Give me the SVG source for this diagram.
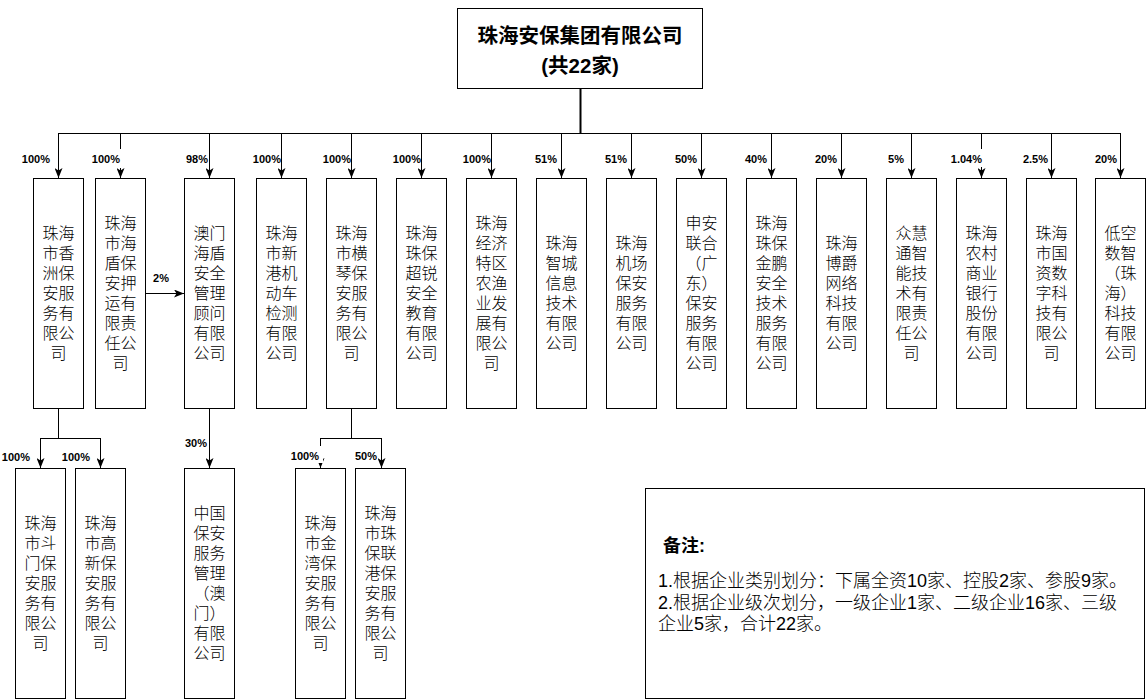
<svg xmlns="http://www.w3.org/2000/svg" width="1146" height="699" viewBox="0 0 1146 699">
<defs>
<style>
.box{fill:#fff;stroke:#000;stroke-width:1}
.t{font-family:"Liberation Sans","Noto Sans CJK SC",sans-serif;font-size:16px;font-weight:300;fill:#000;text-anchor:middle}
.title{font-family:"Liberation Sans","Noto Sans CJK SC",sans-serif;font-size:20.5px;font-weight:bold;fill:#000;text-anchor:middle}
.lbl{font-family:"Liberation Sans","Noto Sans CJK SC",sans-serif;font-size:11px;font-weight:bold;fill:#000;text-anchor:end}
.note{font-family:"Liberation Sans","Noto Sans CJK SC",sans-serif;font-size:18px;font-weight:300;fill:#000}
.noteh{font-family:"Liberation Sans","Noto Sans CJK SC",sans-serif;font-size:18px;font-weight:bold;fill:#000}
.ln{fill:none;stroke:#000;stroke-width:1}
.ar{fill:none;stroke:#000;stroke-width:1;marker-end:url(#arr)}
.bg{fill:#fff;stroke:none}
</style>
<marker id="arr" viewBox="0 0 10 8" refX="10" refY="4" markerWidth="10" markerHeight="8" markerUnits="userSpaceOnUse" orient="auto">
<path d="M0,0 L10,4 L0,8 L2.5,4 Z" fill="#000"/>
</marker>
</defs>
<rect width="1146" height="699" fill="#fff"/>

<g id="connectors">
<line x1="580.5" y1="88" x2="580.5" y2="133" stroke="#000" stroke-width="2"/>
<line class="ln" x1="58.5" y1="133.5" x2="1120.5" y2="133.5"/>
<line class="ar" x1="58.5" y1="133" x2="58.5" y2="178"/>
<line class="ar" x1="120.5" y1="133" x2="120.5" y2="178"/>
<line class="ar" x1="209.5" y1="133" x2="209.5" y2="178"/>
<line class="ar" x1="281.5" y1="133" x2="281.5" y2="178"/>
<line class="ar" x1="351.5" y1="133" x2="351.5" y2="178"/>
<line class="ar" x1="421.5" y1="133" x2="421.5" y2="178"/>
<line class="ar" x1="491.5" y1="133" x2="491.5" y2="178"/>
<line class="ar" x1="561.5" y1="133" x2="561.5" y2="178"/>
<line class="ar" x1="631.5" y1="133" x2="631.5" y2="178"/>
<line class="ar" x1="701.5" y1="133" x2="701.5" y2="178"/>
<line class="ar" x1="771.5" y1="133" x2="771.5" y2="178"/>
<line class="ar" x1="841.5" y1="133" x2="841.5" y2="178"/>
<line class="ar" x1="911.5" y1="133" x2="911.5" y2="178"/>
<line class="ar" x1="981.5" y1="133" x2="981.5" y2="178"/>
<line class="ar" x1="1051.5" y1="133" x2="1051.5" y2="178"/>
<line class="ar" x1="1120.5" y1="133" x2="1120.5" y2="178"/>
<line class="ar" x1="145" y1="293.5" x2="184" y2="293.5"/>
<path class="ln" d="M58.5,408 V438.5 M40.5,438.5 H100.5"/>
<line class="ar" x1="40.5" y1="438" x2="40.5" y2="468"/>
<line class="ar" x1="100.5" y1="438" x2="100.5" y2="468"/>
<line class="ar" x1="209.5" y1="408" x2="209.5" y2="468"/>
<path class="ln" d="M351.5,408 V438.5 M320.5,438.5 H381.5"/>
<line class="ar" x1="320.5" y1="438" x2="320.5" y2="468"/>
<line class="ar" x1="381.5" y1="438" x2="381.5" y2="468"/>

<rect class="bg" x="90" y="149" width="33" height="19"/>
<rect class="bg" x="947" y="149" width="37" height="18"/>
<rect class="bg" x="289" y="446" width="34" height="17"/>

<text class="lbl" x="50" y="163">100%</text>
<text class="lbl" x="120" y="163">100%</text>
<text class="lbl" x="208" y="163">98%</text>
<text class="lbl" x="281" y="163">100%</text>
<text class="lbl" x="351" y="163">100%</text>
<text class="lbl" x="421" y="163">100%</text>
<text class="lbl" x="491" y="163">100%</text>
<text class="lbl" x="557" y="163">51%</text>
<text class="lbl" x="627" y="163">51%</text>
<text class="lbl" x="697" y="163">50%</text>
<text class="lbl" x="767" y="163">40%</text>
<text class="lbl" x="837" y="163">20%</text>
<text class="lbl" x="904" y="163">5%</text>
<text class="lbl" x="982" y="163">1.04%</text>
<text class="lbl" x="1048" y="163">2.5%</text>
<text class="lbl" x="1117" y="163">20%</text>
<text class="lbl" x="169" y="282">2%</text>
<text class="lbl" x="30" y="461">100%</text>
<text class="lbl" x="90" y="461">100%</text>
<text class="lbl" x="207" y="447">30%</text>
<text class="lbl" x="319" y="460">100%</text>
<text class="lbl" x="377" y="460">50%</text>
</g>

<g id="root">
<rect class="box" x="457.5" y="8.5" width="245" height="80"/>
<text class="title" x="580" y="43">珠海安保集团有限公司</text>
<text class="title" x="580" y="73">(共22家)</text>
</g>

<g id="n1"><rect class="box" x="33.5" y="178.5" width="50" height="230"/>
<text class="t" x="58.5" y="239"><tspan x="58.5">珠海</tspan><tspan x="58.5" dy="20">市香</tspan><tspan x="58.5" dy="20">洲保</tspan><tspan x="58.5" dy="20">安服</tspan><tspan x="58.5" dy="20">务有</tspan><tspan x="58.5" dy="20">限公</tspan><tspan x="58.5" dy="20">司</tspan></text></g>

<g id="n2"><rect class="box" x="95.5" y="178.5" width="50" height="230"/>
<text class="t" x="120.5" y="229"><tspan x="120.5">珠海</tspan><tspan x="120.5" dy="20">市海</tspan><tspan x="120.5" dy="20">盾保</tspan><tspan x="120.5" dy="20">安押</tspan><tspan x="120.5" dy="20">运有</tspan><tspan x="120.5" dy="20">限责</tspan><tspan x="120.5" dy="20">任公</tspan><tspan x="120.5" dy="20">司</tspan></text></g>

<g id="n3"><rect class="box" x="184.5" y="178.5" width="50" height="230"/>
<text class="t" x="209.5" y="239"><tspan x="209.5">澳门</tspan><tspan x="209.5" dy="20">海盾</tspan><tspan x="209.5" dy="20">安全</tspan><tspan x="209.5" dy="20">管理</tspan><tspan x="209.5" dy="20">顾问</tspan><tspan x="209.5" dy="20">有限</tspan><tspan x="209.5" dy="20">公司</tspan></text></g>

<g id="n4"><rect class="box" x="256.5" y="178.5" width="50" height="230"/>
<text class="t" x="281.5" y="239"><tspan x="281.5">珠海</tspan><tspan x="281.5" dy="20">市新</tspan><tspan x="281.5" dy="20">港机</tspan><tspan x="281.5" dy="20">动车</tspan><tspan x="281.5" dy="20">检测</tspan><tspan x="281.5" dy="20">有限</tspan><tspan x="281.5" dy="20">公司</tspan></text></g>

<g id="n5"><rect class="box" x="326.5" y="178.5" width="50" height="230"/>
<text class="t" x="351.5" y="239"><tspan x="351.5">珠海</tspan><tspan x="351.5" dy="20">市横</tspan><tspan x="351.5" dy="20">琴保</tspan><tspan x="351.5" dy="20">安服</tspan><tspan x="351.5" dy="20">务有</tspan><tspan x="351.5" dy="20">限公</tspan><tspan x="351.5" dy="20">司</tspan></text></g>

<g id="n6"><rect class="box" x="396.5" y="178.5" width="50" height="230"/>
<text class="t" x="421.5" y="239"><tspan x="421.5">珠海</tspan><tspan x="421.5" dy="20">珠保</tspan><tspan x="421.5" dy="20">超锐</tspan><tspan x="421.5" dy="20">安全</tspan><tspan x="421.5" dy="20">教育</tspan><tspan x="421.5" dy="20">有限</tspan><tspan x="421.5" dy="20">公司</tspan></text></g>

<g id="n7"><rect class="box" x="466.5" y="178.5" width="50" height="230"/>
<text class="t" x="491.5" y="229"><tspan x="491.5">珠海</tspan><tspan x="491.5" dy="20">经济</tspan><tspan x="491.5" dy="20">特区</tspan><tspan x="491.5" dy="20">农渔</tspan><tspan x="491.5" dy="20">业发</tspan><tspan x="491.5" dy="20">展有</tspan><tspan x="491.5" dy="20">限公</tspan><tspan x="491.5" dy="20">司</tspan></text></g>

<g id="n8"><rect class="box" x="536.5" y="178.5" width="50" height="230"/>
<text class="t" x="561.5" y="249"><tspan x="561.5">珠海</tspan><tspan x="561.5" dy="20">智城</tspan><tspan x="561.5" dy="20">信息</tspan><tspan x="561.5" dy="20">技术</tspan><tspan x="561.5" dy="20">有限</tspan><tspan x="561.5" dy="20">公司</tspan></text></g>

<g id="n9"><rect class="box" x="606.5" y="178.5" width="50" height="230"/>
<text class="t" x="631.5" y="249"><tspan x="631.5">珠海</tspan><tspan x="631.5" dy="20">机场</tspan><tspan x="631.5" dy="20">保安</tspan><tspan x="631.5" dy="20">服务</tspan><tspan x="631.5" dy="20">有限</tspan><tspan x="631.5" dy="20">公司</tspan></text></g>

<g id="n10"><rect class="box" x="676.5" y="178.5" width="50" height="230"/>
<text class="t" x="701.5" y="229"><tspan x="701.5">申安</tspan><tspan x="701.5" dy="20">联合</tspan><tspan x="701.5" dy="20">（广</tspan><tspan x="701.5" dy="20">东）</tspan><tspan x="701.5" dy="20">保安</tspan><tspan x="701.5" dy="20">服务</tspan><tspan x="701.5" dy="20">有限</tspan><tspan x="701.5" dy="20">公司</tspan></text></g>

<g id="n11"><rect class="box" x="746.5" y="178.5" width="50" height="230"/>
<text class="t" x="771.5" y="229"><tspan x="771.5">珠海</tspan><tspan x="771.5" dy="20">珠保</tspan><tspan x="771.5" dy="20">金鹏</tspan><tspan x="771.5" dy="20">安全</tspan><tspan x="771.5" dy="20">技术</tspan><tspan x="771.5" dy="20">服务</tspan><tspan x="771.5" dy="20">有限</tspan><tspan x="771.5" dy="20">公司</tspan></text></g>

<g id="n12"><rect class="box" x="816.5" y="178.5" width="50" height="230"/>
<text class="t" x="841.5" y="249"><tspan x="841.5">珠海</tspan><tspan x="841.5" dy="20">博爵</tspan><tspan x="841.5" dy="20">网络</tspan><tspan x="841.5" dy="20">科技</tspan><tspan x="841.5" dy="20">有限</tspan><tspan x="841.5" dy="20">公司</tspan></text></g>

<g id="n13"><rect class="box" x="886.5" y="178.5" width="50" height="230"/>
<text class="t" x="911.5" y="239"><tspan x="911.5">众慧</tspan><tspan x="911.5" dy="20">通智</tspan><tspan x="911.5" dy="20">能技</tspan><tspan x="911.5" dy="20">术有</tspan><tspan x="911.5" dy="20">限责</tspan><tspan x="911.5" dy="20">任公</tspan><tspan x="911.5" dy="20">司</tspan></text></g>

<g id="n14"><rect class="box" x="956.5" y="178.5" width="50" height="230"/>
<text class="t" x="981.5" y="239"><tspan x="981.5">珠海</tspan><tspan x="981.5" dy="20">农村</tspan><tspan x="981.5" dy="20">商业</tspan><tspan x="981.5" dy="20">银行</tspan><tspan x="981.5" dy="20">股份</tspan><tspan x="981.5" dy="20">有限</tspan><tspan x="981.5" dy="20">公司</tspan></text></g>

<g id="n15"><rect class="box" x="1026.5" y="178.5" width="50" height="230"/>
<text class="t" x="1051.5" y="239"><tspan x="1051.5">珠海</tspan><tspan x="1051.5" dy="20">市国</tspan><tspan x="1051.5" dy="20">资数</tspan><tspan x="1051.5" dy="20">字科</tspan><tspan x="1051.5" dy="20">技有</tspan><tspan x="1051.5" dy="20">限公</tspan><tspan x="1051.5" dy="20">司</tspan></text></g>

<g id="n16"><rect class="box" x="1095.5" y="178.5" width="50" height="230"/>
<text class="t" x="1120.5" y="239"><tspan x="1120.5">低空</tspan><tspan x="1120.5" dy="20">数智</tspan><tspan x="1120.5" dy="20">（珠</tspan><tspan x="1120.5" dy="20">海）</tspan><tspan x="1120.5" dy="20">科技</tspan><tspan x="1120.5" dy="20">有限</tspan><tspan x="1120.5" dy="20">公司</tspan></text></g>

<g id="n17"><rect class="box" x="15.5" y="468.5" width="50" height="230"/>
<text class="t" x="40.5" y="529"><tspan x="40.5">珠海</tspan><tspan x="40.5" dy="20">市斗</tspan><tspan x="40.5" dy="20">门保</tspan><tspan x="40.5" dy="20">安服</tspan><tspan x="40.5" dy="20">务有</tspan><tspan x="40.5" dy="20">限公</tspan><tspan x="40.5" dy="20">司</tspan></text></g>

<g id="n18"><rect class="box" x="75.5" y="468.5" width="50" height="230"/>
<text class="t" x="100.5" y="529"><tspan x="100.5">珠海</tspan><tspan x="100.5" dy="20">市高</tspan><tspan x="100.5" dy="20">新保</tspan><tspan x="100.5" dy="20">安服</tspan><tspan x="100.5" dy="20">务有</tspan><tspan x="100.5" dy="20">限公</tspan><tspan x="100.5" dy="20">司</tspan></text></g>

<g id="n19"><rect class="box" x="184.5" y="468.5" width="50" height="230"/>
<text class="t" x="209.5" y="519"><tspan x="209.5">中国</tspan><tspan x="209.5" dy="20">保安</tspan><tspan x="209.5" dy="20">服务</tspan><tspan x="209.5" dy="20">管理</tspan><tspan x="209.5" dy="20">（澳</tspan><tspan x="209.5" dy="20">门）</tspan><tspan x="209.5" dy="20">有限</tspan><tspan x="209.5" dy="20">公司</tspan></text></g>

<g id="n20"><rect class="box" x="295.5" y="468.5" width="50" height="230"/>
<text class="t" x="320.5" y="529"><tspan x="320.5">珠海</tspan><tspan x="320.5" dy="20">市金</tspan><tspan x="320.5" dy="20">湾保</tspan><tspan x="320.5" dy="20">安服</tspan><tspan x="320.5" dy="20">务有</tspan><tspan x="320.5" dy="20">限公</tspan><tspan x="320.5" dy="20">司</tspan></text></g>

<g id="n21"><rect class="box" x="355.5" y="468.5" width="50" height="230"/>
<text class="t" x="380.5" y="519"><tspan x="380.5">珠海</tspan><tspan x="380.5" dy="20">市珠</tspan><tspan x="380.5" dy="20">保联</tspan><tspan x="380.5" dy="20">港保</tspan><tspan x="380.5" dy="20">安服</tspan><tspan x="380.5" dy="20">务有</tspan><tspan x="380.5" dy="20">限公</tspan><tspan x="380.5" dy="20">司</tspan></text></g>

<g id="notes">
<rect class="box" x="645.5" y="488.5" width="499" height="210"/>
<text class="noteh" x="663" y="552">备注:</text>
<text class="note" x="658" y="587">1.根据企业类别划分：下属全资10家、控股2家、参股9家。</text>
<text class="note" x="658" y="608.5">2.根据企业级次划分，一级企业1家、二级企业16家、三级</text>
<text class="note" x="658" y="630">企业5家，合计22家。</text>
</g>
</svg>
